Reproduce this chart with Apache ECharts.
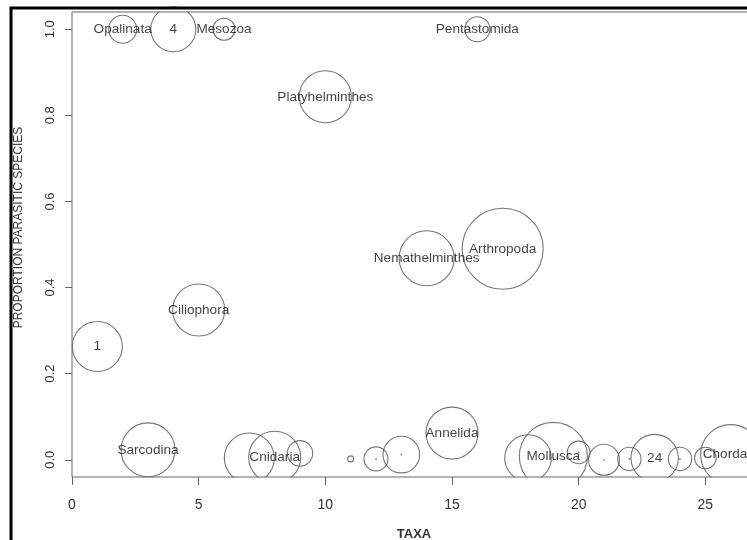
<!DOCTYPE html>
<html>
<head>
<meta charset="utf-8">
<script src="https://cdn.jsdelivr.net/npm/echarts@6/dist/echarts.min.js"></script>
<style>
  html, body { margin: 0; padding: 0; background: #fff; }
  #chart { width: 747px; height: 540px; }
</style>
</head>
<body>
<div id="chart"></div>
<script>
// values
var taxa = [1, 2, 3, 4, 5, 6, 7, 8, 9, 10, 11, 12, 13, 14, 15, 16, 17, 18, 19, 20, 21, 22, 23, 24, 25, 26];
var proportion = [0.263, 1.0, 0.023, 1.0, 0.348, 1.0, 0.004, 0.006, 0.015, 0.843, 0.002, 0.002, 0.012,
                  0.468, 0.062, 1.0, 0.49, 0.004, 0.008, 0.017, 0.0, 0.002, 0.004, 0.002, 0.004, 0.012];
// bubble radius as drawn (relative species count)
var bubbleRadius = [25, 14, 27, 22.5, 26, 11, 25, 26, 12.7, 26, 3, 12, 18.3,
                    27.5, 26, 12.5, 40.5, 23.3, 34, 11.3, 15.5, 11.7, 23.7, 11.7, 10.8, 30];
var taxonLabels = ['1', 'Opalinata', 'Sarcodina', '4', 'Ciliophora', 'Mesozoa', '', 'Cnidaria', '',
                   'Platyhelminthes', '', '', '', 'Nemathelminthes', 'Annelida', 'Pentastomida',
                   'Arthropoda', '', 'Mollusca', '', '', '', '24', '', '', 'Chordata'];
var dotTaxa = [12, 13, 20, 21, 22, 24];
var xTicks = [0, 5, 10, 15, 20, 25];
var yTicks = [0, 0.2, 0.4, 0.6, 0.8, 1.0];

var chart = echarts.init(document.getElementById('chart'));
var font = '"Liberation Sans", Arial, sans-serif';

var bubbleData = taxa.map(function (t, i) { return [t, proportion[i]]; });
var dotData = dotTaxa.map(function (t) { return [t, proportion[taxa.indexOf(t)]]; });

var option = {
  animation: false,
  textStyle: { fontFamily: font },
  grid: { left: 72, top: 12, right: -9, bottom: 63, show: true, outerBoundsMode: 'none',
          borderColor: '#666', borderWidth: 1, z: 10 },
  xAxis: {
    type: 'value', min: 0, max: 27, z: 10,
    name: 'TAXA', nameLocation: 'middle', nameGap: 51,
    nameTextStyle: { fontSize: 13, fontWeight: 'bold', color: '#333', fontFamily: font },
    axisLine: { show: false, onZero: false },
    axisTick: { show: true, length: 8, customValues: xTicks, lineStyle: { color: '#666' } },
    axisLabel: { customValues: xTicks, margin: 21, fontSize: 14, color: '#333', fontFamily: font },
    splitLine: { show: false }
  },
  yAxis: {
    type: 'value', min: -0.04, max: 1.04, z: 10,
    name: 'PROPORTION PARASITIC SPECIES', nameLocation: 'middle', nameGap: 47, nameRotate: 90,
    nameTextStyle: { fontSize: 12, color: '#333', fontFamily: font, padding: [0, 0, 0, 34] },
    axisLine: { show: false, onZero: false },
    axisTick: { show: true, length: 7, customValues: yTicks, lineStyle: { color: '#666' } },
    axisLabel: { customValues: yTicks, rotate: 90, margin: 15, fontSize: 13, color: '#333', fontFamily: font,
                 formatter: function (v) { return v.toFixed(1); } },
    splitLine: { show: false }
  },
  series: [
    {
      type: 'scatter',
      data: bubbleData,
      symbol: 'circle',
      symbolSize: function (val, params) { return 2 * bubbleRadius[params.dataIndex]; },
      itemStyle: { color: 'rgba(0,0,0,0)', borderColor: '#555', borderWidth: 1.1 },
      label: {
        show: true, position: 'inside', fontSize: 13.6, color: '#111', fontFamily: font,
        formatter: function (p) { return taxonLabels[p.dataIndex]; }
      },
      emphasis: { disabled: true },
      z: 2
    },
    {
      type: 'scatter',
      data: dotData,
      symbol: 'circle',
      symbolSize: 1.8,
      itemStyle: { color: '#555' },
      emphasis: { disabled: true },
      z: 2
    }
  ],
  graphic: [
    { type: 'rect', z: 5, shape: { x: 12.5, y: 477.5, width: 740, height: 70 }, style: { fill: '#fff' } },
    { type: 'rect', z: 5, shape: { x: 12.5, y: 9.5, width: 740, height: 2 }, style: { fill: '#fff' } },
    { type: 'polyline', z: 20, shape: { points: [[11, 540], [11, 8], [747, 8]] },
      style: { stroke: '#000', lineWidth: 3, fill: null } }
  ]
};
chart.setOption(option);
</script>
</body>
</html>
